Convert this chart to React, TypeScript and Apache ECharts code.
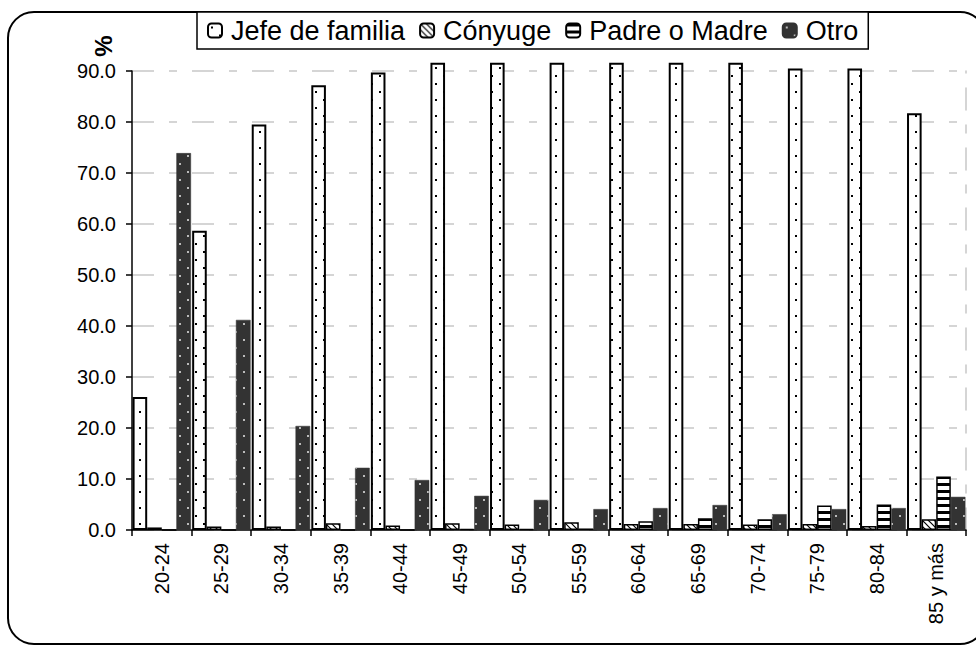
import React, { useEffect, useRef } from "react";
import * as echarts from "echarts";

const categories = ["20-24", "25-29", "30-34", "35-39", "40-44", "45-49", "50-54", "55-59", "60-64", "65-69", "70-74", "75-79", "80-84", "85 y más"];
const seriesNames = ["Jefe de familia", "Cónyuge", "Padre o Madre", "Otro"];
const jefe = [26.1, 58.7, 79.5, 87.2, 89.7, 91.6, 91.6, 91.6, 91.6, 91.6, 91.6, 90.5, 90.5, 81.7];
const conyuge = [0.5, 0.7, 0.7, 1.3, 0.9, 1.3, 1.1, 1.5, 1.2, 1.2, 1.1, 1.2, 0.8, 2.1];
const padre = [0.0, 0.0, 0.0, 0.0, 0.0, 0.2, 0.2, 0.3, 1.7, 2.3, 2.1, 4.8, 5.0, 10.5];
const otro = [73.9, 41.2, 20.4, 12.2, 9.8, 6.7, 5.9, 4.1, 4.3, 4.9, 3.1, 4.1, 4.3, 6.5];
const yTicks = [0, 10, 20, 30, 40, 50, 60, 70, 80, 90];

const FONT = "'Liberation Sans', Arial, sans-serif";

function makePattern(w: number, h: number, draw: (ctx: CanvasRenderingContext2D) => void) {
  const c = document.createElement("canvas");
  c.width = w;
  c.height = h;
  const ctx = c.getContext("2d")!;
  draw(ctx);
  return { image: c.toDataURL(), repeat: "repeat", imageWidth: w, imageHeight: h } as any;
}

export default function App() {
  const ref = useRef<HTMLDivElement>(null);
  useEffect(() => {
    if (!ref.current) return;
    const chart = echarts.init(ref.current, null, { renderer: "svg" });

    const dotsWhite = makePattern(16, 16, (ctx) => {
      ctx.fillStyle = "#fff";
      ctx.fillRect(0, 0, 16, 16);
      ctx.fillStyle = "#000";
      ctx.fillRect(3, 3, 2, 2);
      ctx.fillRect(11, 11, 2, 2);
    });
    const dotsDark = makePattern(16, 16, (ctx) => {
      ctx.fillStyle = "#333";
      ctx.fillRect(0, 0, 16, 16);
      ctx.fillStyle = "#bbb";
      ctx.fillRect(3, 3, 2, 2);
      ctx.fillRect(11, 11, 2, 2);
    });
    const hatch = makePattern(6, 6, (ctx) => {
      ctx.fillStyle = "#fff";
      ctx.fillRect(0, 0, 6, 6);
      ctx.strokeStyle = "#000";
      ctx.lineWidth = 1.2;
      ctx.beginPath();
      ctx.moveTo(-1, -1);
      ctx.lineTo(7, 7);
      ctx.moveTo(-4, 2);
      ctx.lineTo(4, 10);
      ctx.moveTo(2, -4);
      ctx.lineTo(10, 4);
      ctx.stroke();
    });
    const stripes = makePattern(8, 7, (ctx) => {
      ctx.fillStyle = "#fff";
      ctx.fillRect(0, 0, 8, 7);
      ctx.fillStyle = "#000";
      ctx.fillRect(0, 0, 8, 3);
    });

    const gridDash = [22, 15, 8, 15];

    const mkBar = (name: string, data: number[], color: any, border: string, bw: number) => ({
      name,
      type: "bar",
      data,
      barGap: "0%",
      barCategoryGap: "2%",
      clip: false,
      itemStyle: { color, borderColor: border, borderWidth: bw },
      emphasis: { disabled: true },
    });

    chart.setOption({
      animation: false,
      textStyle: { fontFamily: FONT },
      grid: { left: 132, right: 10, top: 71, bottom: 115, containLabel: false },
      legend: {
        data: seriesNames,
        left: 197,
        top: 12,
        padding: [5, 10, 5, 10],
        itemWidth: 14,
        itemHeight: 14,
        itemGap: 14,
        backgroundColor: "#fff",
        borderColor: "#000",
        borderWidth: 1.5,
        textStyle: { fontFamily: FONT, fontSize: 27, color: "#000", padding: [0, 0, 0, 4] },
      },
      xAxis: {
        type: "category",
        data: categories,
        axisLine: { lineStyle: { color: "#000", width: 1.5 } },
        axisTick: { show: true, length: 6, lineStyle: { color: "#000", width: 1.5 } },
        axisLabel: { rotate: 90, fontSize: 20, color: "#000", fontFamily: FONT, margin: 13, interval: 0 },
      },
      yAxis: [
        {
          type: "value",
          min: yTicks[0],
          max: yTicks[yTicks.length - 1],
          interval: 10,
          axisLine: { show: true, lineStyle: { color: "#000", width: 1.5 } },
          axisTick: { show: true, length: 6, lineStyle: { color: "#000", width: 1.5 } },
          axisLabel: { fontSize: 20, color: "#000", fontFamily: FONT, margin: 16, formatter: (v: number) => v.toFixed(1) },
          splitLine: { show: true, lineStyle: { color: "#c8c8c8", width: 1.5, type: gridDash } },
        },
        {
          type: "value",
          position: "right",
          min: yTicks[0],
          max: yTicks[yTicks.length - 1],
          interval: 10,
          axisLine: { show: true, lineStyle: { color: "#c8c8c8", width: 1.5, type: gridDash } },
          axisTick: { show: false },
          axisLabel: { show: false },
          splitLine: { show: false },
        },
      ],
      graphic: [
        {
          type: "rect",
          silent: true,
          z: -10,
          shape: { x: 8, y: 12, width: 978, height: 632, r: 26 },
          style: { fill: "none", stroke: "#000", lineWidth: 2 },
        },
        {
          type: "text",
          silent: true,
          x: 103,
          y: 46,
          rotation: Math.PI / 2,
          style: { text: "%", fontSize: 24, fontWeight: "bold", fontFamily: FONT, fill: "#000", align: "center", verticalAlign: "middle" },
        },
      ],
      series: [
        mkBar(seriesNames[0], jefe, dotsWhite, "#000", 2),
        mkBar(seriesNames[1], conyuge, hatch, "#000", 1.5),
        mkBar(seriesNames[2], padre, stripes, "#000", 1.5),
        mkBar(seriesNames[3], otro, dotsDark, "#333", 0.5),
      ],
    });
    return () => chart.dispose();
  }, []);
  return <div ref={ref} style={{ position: "absolute", left: 0, top: 0, width: 976, height: 645, background: "#fff" }} />;
}
